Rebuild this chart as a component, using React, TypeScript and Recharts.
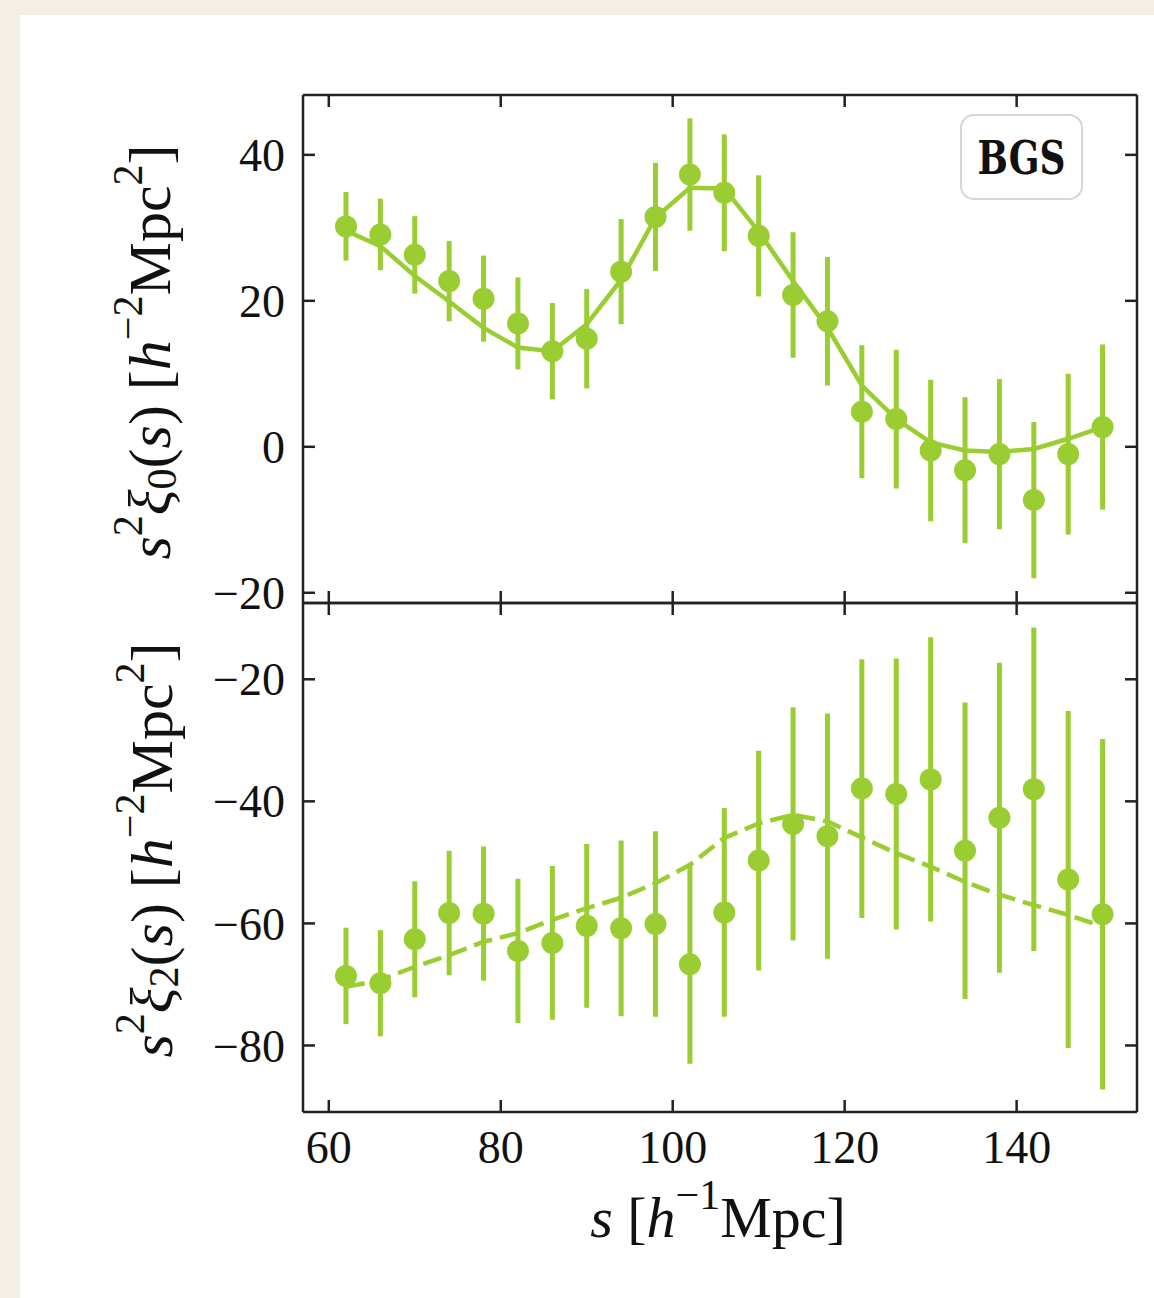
import React from 'react';
import { ComposedChart, Line, Scatter, ErrorBar, XAxis, YAxis, Label } from 'recharts';

// separation bins, h^-1 Mpc
const S = [62, 66, 70, 74, 78, 82, 86, 90, 94, 98, 102, 106, 110, 114, 118, 122, 126, 130, 134, 138, 142, 146, 150];

// monopole s^2 xi_0
const XI0 = [30.2, 29.1, 26.3, 22.7, 20.3, 16.9, 13.1, 14.8, 24.0, 31.5, 37.3, 34.8, 28.9, 20.8, 17.2, 4.8, 3.8, -0.5, -3.2, -1.0, -7.3, -1.0, 2.7];
const ERR0 = [4.7, 4.9, 5.3, 5.5, 5.9, 6.3, 6.6, 6.8, 7.2, 7.4, 7.7, 8.0, 8.3, 8.6, 8.8, 9.1, 9.5, 9.7, 10.0, 10.3, 10.7, 11.0, 11.3];
const MODEL0 = [29.6, 27.5, 23.4, 19.9, 16.3, 13.6, 13.1, 16.8, 22.9, 31.4, 35.5, 35.4, 29.5, 22.7, 16.3, 8.4, 3.8, 0.6, -0.5, -0.7, -0.3, 1.1, 2.7];

// quadrupole s^2 xi_2
const XI2 = [-68.6, -69.8, -62.6, -58.3, -58.4, -64.5, -63.2, -60.4, -60.8, -60.1, -66.7, -58.2, -49.7, -43.7, -45.7, -37.9, -38.8, -36.4, -48.1, -42.7, -38.0, -52.8, -58.5];
const ERR2 = [7.9, 8.7, 9.5, 10.2, 11.0, 11.8, 12.6, 13.4, 14.4, 15.2, 16.3, 17.1, 18.0, 19.1, 20.1, 21.2, 22.2, 23.3, 24.3, 25.4, 26.5, 27.6, 28.7];
const MODEL2 = [-70.4, -69.3, -67.1, -65.2, -63.0, -61.6, -59.4, -57.5, -55.8, -53.4, -50.4, -46.0, -43.6, -42.2, -43.3, -45.9, -48.5, -50.7, -53.2, -55.3, -57.0, -58.6, -60.5];

const X_TICKS = [60, 80, 100, 120, 140];
const Y0_TICKS = [-20, 0, 20, 40];
const Y2_TICKS = [-80, -60, -40, -20];

const GREEN = '#9ACD32';
const FRAME = '#222';
const SERIF = '"Liberation Serif", "DejaVu Serif", serif';
const FS = 46;
const LFS = 60;
const SUP = 42;

const fmt = (v: number) => (v < 0 ? '\u2212' + Math.abs(v) : String(v));

const rows0 = S.map((s, i) => ({ s, xi: XI0[i], err: ERR0[i], model: MODEL0[i] }));
const rows2 = S.map((s, i) => ({ s, xi: XI2[i], err: ERR2[i], model: MODEL2[i] }));

// negative tickSize -> ticks point into the frame, like matplotlib direction='in'
const axisLine = { stroke: FRAME, strokeWidth: 2.5 };
const tickLine = { stroke: FRAME, strokeWidth: 2.5 };

const LeftTick = (p: any) => (
  <text x={p.x} y={p.y} dy="0.35em" textAnchor="end" fontSize={FS} fontFamily={SERIF} fill="#111">
    {fmt(p.payload.value)}
  </text>
);

const BottomTick = (p: any) => (
  <text x={p.x} y={p.y} dy="0.35em" textAnchor="middle" fontSize={FS} fontFamily={SERIF} fill="#111">
    {p.payload.value}
  </text>
);

const NoLabel = () => <g />;

const Dot = (p: any) => <circle cx={p.cx} cy={p.cy} r={11} fill={GREEN} />;

const YLabel = ({ cx, cy, sub }: { cx: number; cy: number; sub: string }) => (
  <text
    x={cx}
    y={cy}
    transform={`rotate(-90 ${cx} ${cy})`}
    textAnchor="middle"
    dominantBaseline="central"
    fontFamily={SERIF}
    fontSize={LFS}
    fill="#111"
  >
    <tspan fontStyle="italic">s</tspan>
    <tspan fontSize={SUP} dy={-22}>2</tspan>
    <tspan fontStyle="italic" dy={22}>ξ</tspan>
    <tspan fontSize={SUP} dy={12}>{sub}</tspan>
    <tspan dy={-12}>(</tspan>
    <tspan fontStyle="italic">s</tspan>
    <tspan>{') ['}</tspan>
    <tspan fontStyle="italic">h</tspan>
    <tspan fontSize={SUP} dy={-22}>{'\u22122'}</tspan>
    <tspan dy={22}>Mpc</tspan>
    <tspan fontSize={SUP} dy={-22}>2</tspan>
    <tspan dy={22}>]</tspan>
  </text>
);

const XLabel = ({ cx, cy }: { cx: number; cy: number }) => (
  <text x={cx} y={cy} textAnchor="middle" dominantBaseline="central" fontFamily={SERIF} fontSize={58} fill="#111">
    <tspan fontStyle="italic">s</tspan>
    <tspan>{' ['}</tspan>
    <tspan fontStyle="italic">h</tspan>
    <tspan fontSize={SUP} dy={-22}>{'\u22121'}</tspan>
    <tspan dy={22}>Mpc]</tspan>
  </text>
);

export default function App() {
  return (
    <div style={{ position: 'absolute', left: 0, top: 0, width: 1154, height: 1298, background: '#f3efe7' }}>
      <div style={{ position: 'absolute', left: 20, top: 15, width: 1134, height: 1283, background: '#fff' }} />

      {/* monopole */}
      <div style={{ position: 'absolute', left: 0, top: 0 }}>
        <ComposedChart width={1154} height={620} data={rows0} margin={{ top: 94, right: 16, bottom: 16, left: 0 }}>
          <XAxis dataKey="s" type="number" domain={[57, 154]} ticks={X_TICKS} interval={0} height={1}
            tickSize={-12} tickMargin={0} axisLine={axisLine} tickLine={tickLine} tick={NoLabel} allowDataOverflow />
          <XAxis xAxisId="top" orientation="top" dataKey="s" type="number" domain={[57, 154]} ticks={X_TICKS} interval={0}
            height={1} tickSize={-12} tickMargin={0} axisLine={axisLine} tickLine={tickLine} tick={NoLabel} allowDataOverflow />
          <YAxis type="number" domain={[-21.4, 48.2]} ticks={Y0_TICKS} interval={0} width={303} tickSize={-12} tickMargin={30}
            axisLine={axisLine} tickLine={tickLine} tick={LeftTick} allowDataOverflow>
            <Label content={() => <YLabel cx={150} cy={352} sub="0" />} />
          </YAxis>
          <YAxis yAxisId="right" orientation="right" type="number" domain={[-21.4, 48.2]} ticks={Y0_TICKS} interval={0}
            width={1} tickSize={-12} tickMargin={0} axisLine={axisLine} tickLine={tickLine} tick={NoLabel} allowDataOverflow />
          <Line dataKey="model" type="linear" stroke={GREEN} strokeWidth={4.5} dot={false} isAnimationActive={false} />
          <Scatter dataKey="xi" fill={GREEN} shape={Dot} isAnimationActive={false}>
            <ErrorBar dataKey="err" direction="y" width={0} strokeWidth={5} stroke={GREEN} isAnimationActive={false} />
          </Scatter>
        </ComposedChart>
      </div>

      {/* quadrupole */}
      <div style={{ position: 'absolute', left: 0, top: 590 }}>
        <ComposedChart width={1154} height={708} data={rows2} margin={{ top: 12, right: 16, bottom: 86, left: 0 }}>
          <XAxis dataKey="s" type="number" domain={[57, 154]} ticks={X_TICKS} interval={0} height={100}
            tickSize={-12} tickMargin={47} axisLine={axisLine} tickLine={tickLine} tick={BottomTick} allowDataOverflow>
            <Label content={() => <XLabel cx={718} cy={627} />} />
          </XAxis>
          <XAxis xAxisId="top" orientation="top" dataKey="s" type="number" domain={[57, 154]} ticks={X_TICKS} interval={0}
            height={1} tickSize={-12} tickMargin={0} axisLine={axisLine} tickLine={tickLine} tick={NoLabel} allowDataOverflow />
          <YAxis type="number" domain={[-90.9, -7.5]} ticks={Y2_TICKS} interval={0} width={303} tickSize={-12} tickMargin={30}
            axisLine={axisLine} tickLine={tickLine} tick={LeftTick} allowDataOverflow>
            <Label content={() => <YLabel cx={152} cy={260} sub="2" />} />
          </YAxis>
          <YAxis yAxisId="right" orientation="right" type="number" domain={[-90.9, -7.5]} ticks={Y2_TICKS} interval={0}
            width={1} tickSize={-12} tickMargin={0} axisLine={axisLine} tickLine={tickLine} tick={NoLabel} allowDataOverflow />
          <Line dataKey="model" type="linear" stroke={GREEN} strokeWidth={4.5} strokeDasharray="19 8" dot={false}
            isAnimationActive={false} />
          <Scatter dataKey="xi" fill={GREEN} shape={Dot} isAnimationActive={false}>
            <ErrorBar dataKey="err" direction="y" width={0} strokeWidth={5} stroke={GREEN} isAnimationActive={false} />
          </Scatter>
        </ComposedChart>
      </div>

      {/* panel tag */}
      <div
        style={{
          position: 'absolute',
          left: 960,
          top: 114,
          width: 119,
          height: 82,
          border: '2px solid #d6d6d6',
          borderRadius: 14,
          background: 'rgba(255,255,255,0.85)',
          display: 'flex',
          alignItems: 'center',
          justifyContent: 'center',
          fontFamily: '"DejaVu Serif", serif',
          fontWeight: 'bold',
          fontSize: 36,
          color: '#111',
        }}
      >
        <span style={{ display: 'inline-block', transform: 'scaleY(1.3)' }}>BGS</span>
      </div>
    </div>
  );
}
